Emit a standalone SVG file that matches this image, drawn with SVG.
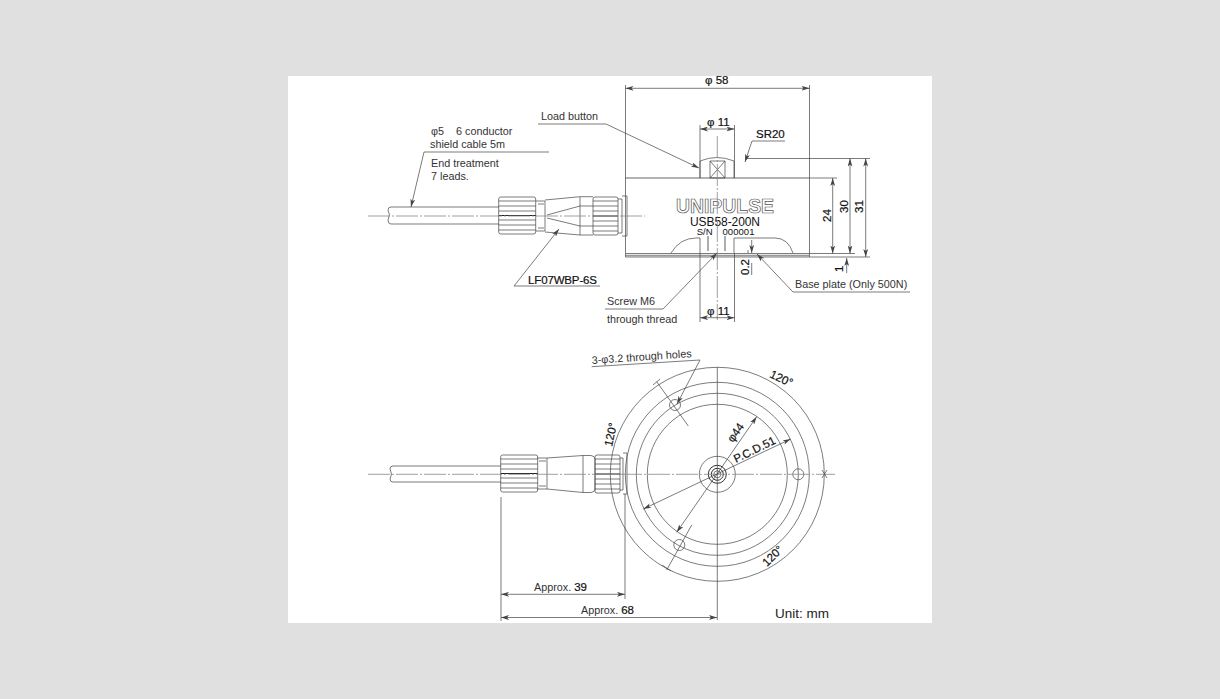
<svg xmlns="http://www.w3.org/2000/svg" width="1220" height="699" viewBox="0 0 1220 699">
<style>
.l{fill:none;stroke:#444;stroke-width:.7}
.m{fill:none;stroke:#333;stroke-width:1}
.b{fill:none;stroke:#999;stroke-width:1.6}
.c{fill:none;stroke:#888;stroke-width:.8;stroke-dasharray:22 2 2 2}
.d{fill:none;stroke:#444;stroke-width:.7;marker-start:url(#a);marker-end:url(#a)}
.e{fill:none;stroke:#444;stroke-width:.7;marker-end:url(#a)}
text{font-family:"Liberation Sans",Arial,sans-serif;font-size:10.8px;fill:#333}
.s{font-size:11.5px;fill:#111;stroke:#111;stroke-width:.2}
</style>
<defs>
<marker id="a" viewBox="0 0 10 6" refX="10" refY="3" markerWidth="8" markerHeight="5" markerUnits="userSpaceOnUse" orient="auto-start-reverse"><path d="M0 0L10 3L0 6L2.5 3Z" fill="#444"/></marker>
<g id="nut"><path class="l" d="M2 0H35Q37 0 37 2V35Q37 37 35 37H2Q0 37 0 35V2Q0 0 2 0Z"/><path class="l" d="M0 4H37M0 9H37M0 14H37M0 23H37M0 28H37M0 33H37"/><path d="M0 18.500H37" stroke="#222" stroke-width="1"/></g>
<g id="nut2"><path class="l" d="M2 0H23Q25 0 25 2V36Q25 38 23 38H2Q0 38 0 36V2Q0 0 2 0Z"/><path class="l" d="M0 4H25M0 9H25M0 14H25M0 24H25M0 29H25M0 34H25"/><path d="M0 19H25" stroke="#222" stroke-width="1"/></g>
</defs>
<rect width="1220" height="699" fill="#e0e0e0"/>
<rect x="288" y="76" width="644" height="547" fill="#fff"/>

<g id="side-view">
<path class="l" d="M499 207H391Q388 207 388 210Q391 215 388 220Q388 224 391 224H499"/>
<use href="#nut" x="498.700" y="197"/>
<path class="l" d="M536 201H545V231H536M538 204H544M538 228H544"/>
<path class="l" d="M545 200L580 196.700H593M545 232L580 235H593M580 197V235"/>
<path class="l" d="M547 215L580 206H593M547 218L580 226H593"/>
<use href="#nut2" x="593" y="197"/>
<path class="l" d="M618 199H622V233H618M622 196H627V236H622"/>
<path class="b" d="M625.500 178H809.500M625.500 255.500H809.500"/>
<path class="l" d="M625.500 178V253.500M809.500 178V253.500M625.500 253.500H809.500M625.500 257H809.500M625.500 253.500V257M809.500 253.500V257"/>
<path class="l" d="M700 178V161Q717 154 734 161V178M710 161V178H725V161M710 161H725M710 161L725 178M725 161L710 178"/>
<path class="l" d="M671 253Q680 238 696 238H700M734 238H775Q788 238 793 253M700 238V253M734 238V253M748 250V253"/>
<path class="b" d="M708 236V251M725 236V251"/>
<text x="676" y="213" textLength="98" lengthAdjust="spacingAndGlyphs" style="font-size:19.500px;fill:#fff;stroke:#555;stroke-width:.7;font-weight:bold">UNIPULSE</text>
<text x="690" y="225.500" style="font-size:12px;fill:#111" textLength="70">USB58-200N</text>
<text x="696.700" y="234.500" style="font-size:9.500px;fill:#111">S/N</text>
<text x="722.500" y="234.500" style="font-size:9.500px;fill:#111" textLength="32">000001</text>
<path class="c" d="M368 216H645M717.300 136V320"/>
</g>

<g id="bottom-view">
<path class="l" d="M501 466H393Q390 466 390 469Q393 474 390 479Q390 482 393 482H501"/>
<use href="#nut" x="500.700" y="455"/>
<path class="l" d="M537 458H547V489H537M539 461H546M539 486H546"/>
<path class="l" d="M547 458L583 455.500H591Q595 456 595 459V489Q595 492 591 492.500H583L547 489M583 455.500V492.500"/>
<use href="#nut2" x="595" y="455"/>
<path class="l" d="M620 458H623V490H620M623 453H627V494H623"/>
<circle class="l" cx="717.300" cy="474.300" r="107"/>
<circle class="l" cx="717.300" cy="474.300" r="92"/>
<circle class="l" cx="717.300" cy="474.300" r="81"/>
<circle class="l" cx="717.300" cy="474.300" r="70"/>
<circle class="l" cx="717.300" cy="474.300" r="18"/>
<circle class="m" cx="717.300" cy="474.300" r="9"/>
<circle class="m" cx="717.300" cy="474.300" r="6"/>
<circle class="l" cx="717.300" cy="474.300" r="3.500"/>
<circle class="l" cx="798.300" cy="474.300" r="5.500"/>
<circle class="l" cx="675" cy="405" r="5.500"/>
<circle class="l" cx="679.300" cy="545" r="5.500"/>
<path class="c" d="M368 474.300H835"/>
<path class="l" d="M717.300 367V620M656.700 381.700L688.300 426M691.700 525L666.700 570M660 379L653 385M662 565L671 571M822 470L827 478M827 470L822 478"/>
</g>

<g id="connectors">
<path class="l" d="M625.500 85V178M809.500 85V178M700 125V178M734.500 125V178M700 253V322M734.500 253V322"/>
<path class="d" d="M625.500 88.300H809.500"/>
<path class="d" d="M700 129H734.500"/>
<path class="d" d="M700 317.700H734.500"/>
<path class="l" d="M785 141H752"/>
<path class="e" d="M752 141L745 162"/>
<path class="l" d="M745 158.500H870M809.500 178H837M809.500 253.500H855M809.500 257H870"/>
<path class="d" d="M832.700 178V253.500"/>
<path class="d" d="M850 158.500V253.500"/>
<path class="d" d="M865.700 158.500V257"/>
<path class="e" d="M846.700 273V258"/>
<path class="e" d="M751.700 240V253"/>
<path class="l" d="M751.700 263V275"/>
<path class="l" d="M910 292H793"/>
<path class="e" d="M793 292L757 254"/>
<path class="l" d="M538 124H606"/>
<path class="e" d="M606 124L699 168"/>
<path class="l" d="M424 152H549"/>
<path class="e" d="M424 152L411 207"/>
<path class="l" d="M600 286H514"/>
<path class="e" d="M514 286L559 229"/>
<path class="l" d="M605 309H663"/>
<path class="e" d="M663 309L717 253"/>
<path class="l" d="M591.700 366.700L700 360"/>
<path class="e" d="M700 360L677 404"/>
<path class="d" d="M756.700 416.700L676.700 532.300"/>
<path class="d" d="M790.700 439L643.300 509"/>
<path class="l" d="M501 497V621M625 494V599"/>
<path class="d" d="M501 594.300H625"/>
<path class="d" d="M501 617.500H717"/>
</g>

<g id="labels">
<text class="s" x="705" y="84">φ 58</text>
<text class="s" x="707" y="126">φ 11</text>
<text class="s" x="756" y="138">SR20</text>
<text class="s" x="707" y="315">φ 11</text>
<text x="541" y="120">Load button</text>
<text x="431" y="135">φ5<tspan x="456">6 conductor</tspan></text>
<text x="430" y="148">shield cable 5m</text>
<text x="431" y="167">End treatment</text>
<text x="431" y="180">7 leads.</text>
<text class="s" x="528" y="284" textLength="69">LF07WBP-6S</text>
<text x="607" y="305">Screw M6</text>
<text x="607" y="323">through thread</text>
<text x="795" y="288">Base plate (Only 500N)</text>
<text class="s" transform="translate(831,222) rotate(-90)">24</text>
<text class="s" transform="translate(848,213) rotate(-90)">30</text>
<text class="s" transform="translate(863,213) rotate(-90)">31</text>
<text class="s" transform="translate(843,272) rotate(-90)">1</text>
<text class="s" transform="translate(749,275) rotate(-90)">0.2</text>
<text transform="translate(592,364) rotate(-4)">3-φ3.2 through holes</text>
<text class="s" transform="translate(769,377) rotate(25)">120°</text>
<text class="s" transform="translate(612,447) rotate(-78)">120°</text>
<text class="s" transform="translate(767,567) rotate(-45)">120°</text>
<text class="s" transform="translate(733,443) rotate(-55)">φ44</text>
<text class="s" transform="translate(736,463) rotate(-26)">P.C.D.51</text>
<text x="534" y="591">Approx. <tspan style="font-size:11.500px;fill:#111;stroke:#111;stroke-width:.2">39</tspan></text>
<text x="581" y="614">Approx. <tspan style="font-size:11.500px;fill:#111;stroke:#111;stroke-width:.2">68</tspan></text>
<text x="775" y="618" style="font-size:13.500px;fill:#222">Unit: mm</text>
</g>
</svg>
